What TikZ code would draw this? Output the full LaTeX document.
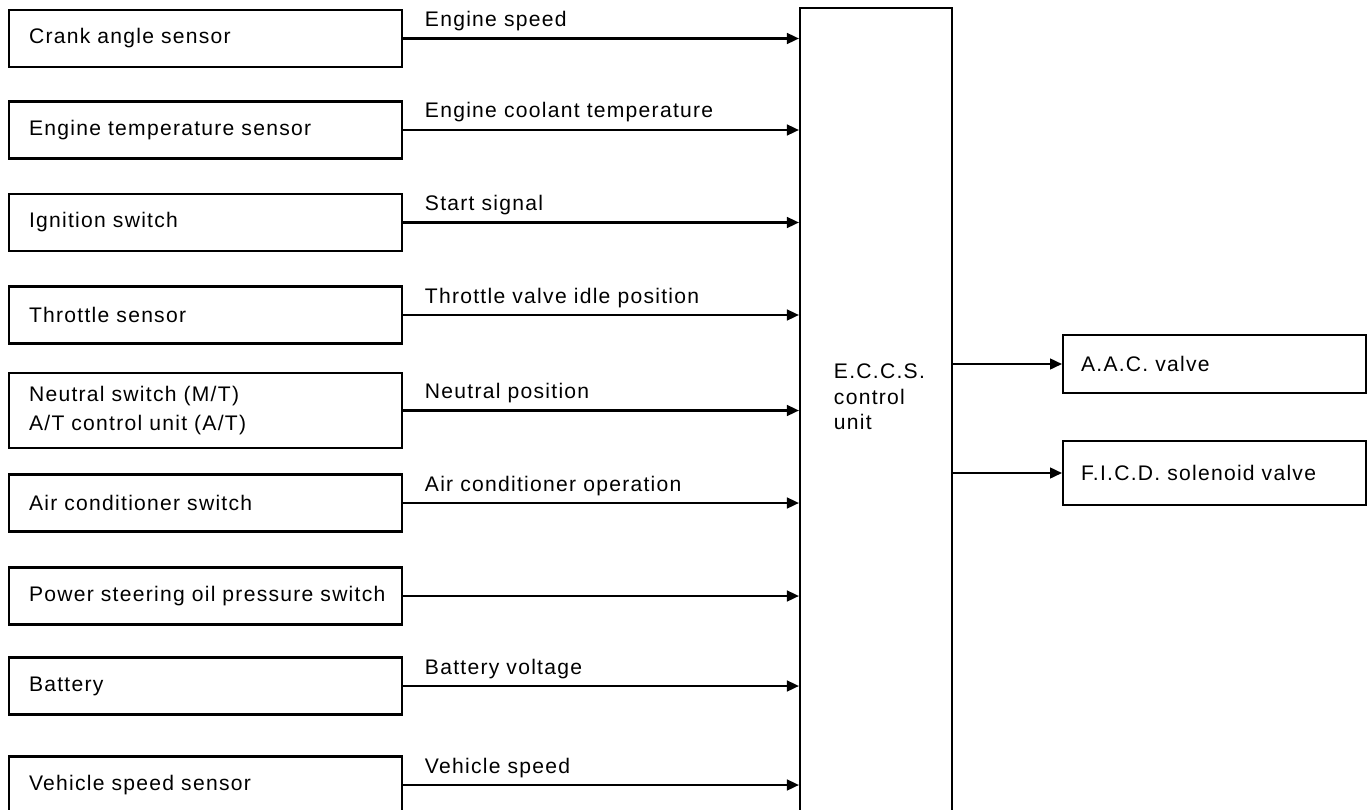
\documentclass[tikz,border=0pt]{standalone}
\usepackage{fontspec}
\setmainfont{Liberation Sans}[LetterSpace=6]
\usetikzlibrary{arrows.meta}
\begin{document}
\begin{tikzpicture}[x=0.025cm, y=-0.025cm,
		every node/.style={font=\fontsize{15}{20}\selectfont},
		inbox/.style={draw, line width=1.5pt, anchor=west, text width=8.825cm, inner xsep=0.5cm, minimum height=1.425cm, align=left},
		outbox/.style={draw, line width=1.5pt, anchor=west, text width=6.675cm, inner xsep=0.45cm, minimum height=1.45cm, align=left},
		unitbox/.style={draw, line width=1.5pt, minimum width=3.8cm, minimum height=20.2cm},
		sig/.style={line width=1.5pt, -{Triangle[length=0.3cm, width=0.27cm]}},
		siglabel/.style={pos=0, anchor=base west, xshift=0.4cm, yshift=0.3cm}]
	\clip (0,0) rectangle (1367,809);
	% sensors
	\node[inbox] (crank) at (8,38.5) {Crank angle sensor};
	\node[inbox] (temp) at (8,130) {Engine temperature sensor};
	\node[inbox] (ign) at (8,222.5) {Ignition switch};
	\node[inbox] (thr) at (8,315) {Throttle sensor};
	\node[inbox, minimum height=1.875cm] (neut) at (8,410.5) {Neutral switch (M/T)\\A/T control unit (A/T)};
	\node[inbox] (aircon) at (8,503) {Air conditioner switch};
	\node[inbox] (pstr) at (8,596) {\mbox{Power steering oil pressure switch}};
	\node[inbox] (batt) at (8,686) {Battery};
	\node[inbox] (vss) at (8,785) {Vehicle speed sensor};
	% control unit
	\node[unitbox] (eccs) at (876,412) {};
	\node[anchor=west, align=left, font=\fontsize{15}{18}\selectfont] (eccstext) at (829,397) {E.C.C.S.\\control\\unit};
	% actuators
	\node[outbox] (aac) at (1062,364) {A.A.C. valve};
	\node[outbox, minimum height=1.6cm] (ficd) at (1062,473) {F.I.C.D. solenoid valve};
	% signals
	\draw[sig] (crank.east) -- node[siglabel] {Engine speed} (crank.east -| eccs.west);
	\draw[sig] (temp.east) -- node[siglabel] {Engine coolant temperature} (temp.east -| eccs.west);
	\draw[sig] (ign.east) -- node[siglabel] {Start signal} (ign.east -| eccs.west);
	\draw[sig] (thr.east) -- node[siglabel] {Throttle valve idle position} (thr.east -| eccs.west);
	\draw[sig] (neut.east) -- node[siglabel] {Neutral position} (neut.east -| eccs.west);
	\draw[sig] (aircon.east) -- node[siglabel] {Air conditioner operation} (aircon.east -| eccs.west);
	\draw[sig] (pstr.east) -- (pstr.east -| eccs.west);
	\draw[sig] (batt.east) -- node[siglabel] {Battery voltage} (batt.east -| eccs.west);
	\draw[sig] (vss.east) -- node[siglabel] {Vehicle speed} (vss.east -| eccs.west);
	\draw[sig] (eccs.east |- aac.west) -- (aac.west);
	\draw[sig] (eccs.east |- ficd.west) -- (ficd.west);
\end{tikzpicture}
\end{document}
